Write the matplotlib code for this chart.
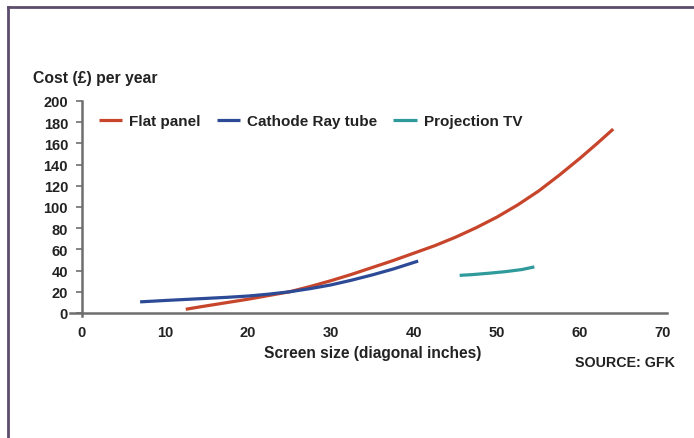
import matplotlib
matplotlib.use("Agg")
import matplotlib.pyplot as plt
from matplotlib.lines import Line2D

plt.rcParams['font.family'] = ['Liberation Sans', 'DejaVu Sans']

# Data
flat_x = [12.5, 14, 16, 18, 20, 22.5, 25, 27.5, 30, 32.5, 35, 37.5, 40, 42.5, 45,
          47.5, 50, 52.5, 55, 57.5, 60, 62, 64]
flat_y = [3.5, 5.5, 8, 10.5, 13, 16.5, 20, 25, 30.5, 36.5, 43, 49.5, 56.5, 63.5, 71.5,
          80.5, 90.5, 102, 115, 130, 146, 159.5, 173.5]
crt_x = [7, 10, 12.5, 15, 17.5, 20, 22.5, 25, 27.5, 30, 32.5, 35, 37.5, 40.5]
crt_y = [10.5, 11.8, 12.8, 13.8, 14.8, 16, 17.8, 20, 23, 26.5, 31, 36, 41.5, 49]
proj_x = [45.5, 47, 49, 51, 53, 54.5]
proj_y = [35.5, 36.2, 37.5, 39, 41, 43.5]
series_names = ["Flat panel", "Cathode Ray tube", "Projection TV"]
xticks = [0, 10, 20, 30, 40, 50, 60, 70]
yticks = list(range(0, 201, 20))

W, H = 694, 439
fig = plt.figure(figsize=(W / 100, H / 100), dpi=100)
ax = fig.add_axes([82 / W, 1 - 314 / H, (663 - 82) / W, (314 - 102) / H])

red = '#c7452b'
blue = '#2c4a96'
teal = '#2f9a9c'
lw = 2.3
ax.plot(flat_x, flat_y, color=red, lw=lw, label=series_names[0], solid_capstyle='butt')
ax.plot(crt_x, crt_y, color=blue, lw=lw, label=series_names[1], solid_capstyle='butt')
ax.plot(proj_x, proj_y, color=teal, lw=lw, label=series_names[2], solid_capstyle='butt')

ax.set_xlim(0, 70)
ax.set_ylim(0, 200)
ax.set_xticks(xticks)
ax.set_yticks(yticks)
for s in ['top', 'right']:
    ax.spines[s].set_visible(False)
axis_col = '#6e6e6e'
for s in ['left', 'bottom']:
    ax.spines[s].set_color(axis_col)
    ax.spines[s].set_linewidth(1.8)
ax.spines['left'].set_bounds(-3, 200)
ax.spines['bottom'].set_bounds(-1.5, 70.5)
ax.tick_params(axis='y', length=4, width=1.2, color=axis_col, pad=6, labelsize=10.5)
ax.tick_params(axis='x', length=0, pad=9, labelsize=10.5)
for lab in ax.get_xticklabels() + ax.get_yticklabels():
    lab.set_fontweight('bold')
    lab.set_color('#222222')

ax.set_xlabel("Screen size (diagonal inches)", fontsize=11.2, fontweight='bold',
              color='#222222', labelpad=4)

leg = ax.legend(loc='center left', bbox_to_anchor=(0.005, 0.905), ncol=3, frameon=False,
                handlelength=1.55, handletextpad=0.45, columnspacing=1.05,
                prop={'weight': 'bold', 'size': 11})
for t in leg.get_texts():
    t.set_color('#222222')

fig.text(33 / W, 1 - 78 / H, "Cost (£) per year", fontsize=11.3, fontweight='bold',
         color='#222222', va='center', ha='left')
fig.text(675 / W, 1 - 363 / H, "SOURCE: GFK", fontsize=10.3, fontweight='bold',
         color='#222222', va='center', ha='right')

# Frame border (top and left)
border = '#5d4c6c'
fig.add_artist(Line2D([8 / W, 1.0], [1 - 8 / H, 1 - 8 / H], color=border, lw=2,
                      transform=fig.transFigure))
fig.add_artist(Line2D([8 / W, 8 / W], [0, 1 - 8 / H], color=border, lw=2,
                      transform=fig.transFigure))

fig.savefig("out.png", dpi=100)
